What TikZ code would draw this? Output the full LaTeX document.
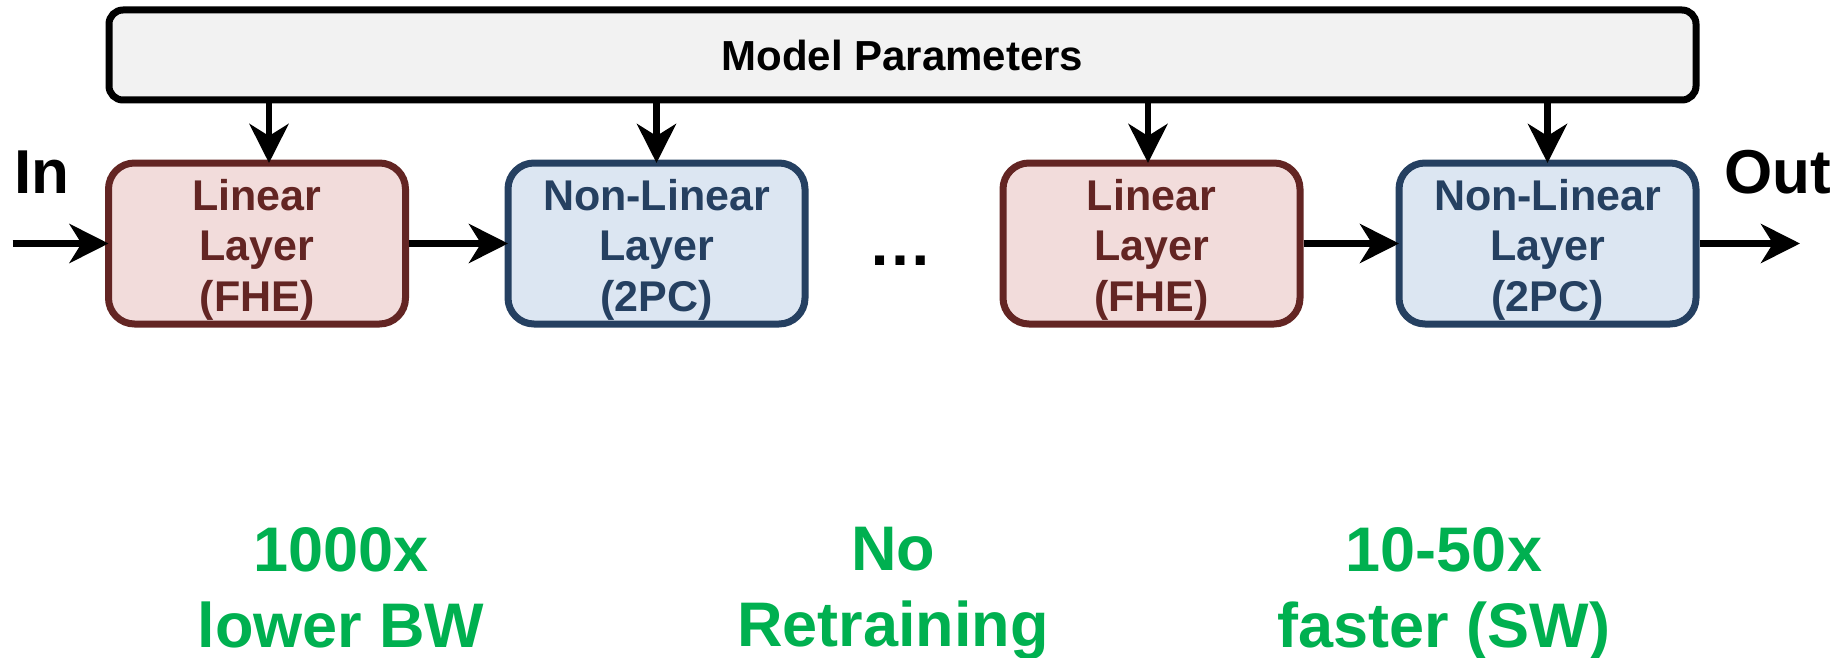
\documentclass[tikz,border=0pt]{standalone}
\usepackage{fontspec}
\setmainfont{Liberation Sans}
\usetikzlibrary{arrows.meta}
\definecolor{lred}{HTML}{632523}
\definecolor{lredfill}{HTML}{F2DCDB}
\definecolor{nlblue}{HTML}{254061}
\definecolor{nlfill}{HTML}{DCE6F2}
\definecolor{mpfill}{HTML}{F2F2F2}
\definecolor{gain}{HTML}{00B050}
\newcommand\lstrut{\rule{0pt}{43pt}}
\begin{document}
\begin{tikzpicture}[x=1pt,y=-1pt,
  layerbox/.style={draw, line width=7pt, rounded corners=26pt, minimum width=297pt,
    minimum height=161pt, outer sep=0pt, inner sep=0pt, align=center,
    font=\fontsize{43}{50.5}\selectfont\bfseries},
  linbox/.style={layerbox, draw=lred, fill=lredfill, text=lred},
  nlbox/.style={layerbox, draw=nlblue, fill=nlfill, text=nlblue},
  parbox/.style={draw=black, fill=mpfill, line width=7pt, rounded corners=14pt,
    minimum width=1587pt, minimum height=90pt, outer sep=0pt, inner sep=0pt,
    font=\fontsize{42}{50}\selectfont\bfseries},
  arr/.style={line width=6.5pt, shorten <=3.5pt,
    -{Stealth[length=39pt, width=39pt, inset=12pt]}},
  gaintext/.style={text=gain, align=center, inner sep=0pt, anchor=north,
    font=\fontsize{63}{76}\selectfont\bfseries},
  iolabel/.style={inner sep=0pt, anchor=base, font=\fontsize{62}{74}\selectfont\bfseries}
]
\useasboundingbox (0,0) rectangle (1847,658);

\node[parbox] (mp) at (902.5,55) {Model Parameters};
\node[linbox] (l1) at (257,243.5) {\lstrut Linear\\Layer\\(FHE)};
\node[nlbox] (n1) at (656.5,243.5) {\lstrut Non-Linear\\Layer\\(2PC)};
\node[inner sep=0pt, anchor=base, font=\fontsize{64}{64}\selectfont\bfseries] (dots) at (900,265) {…};
\node[linbox] (l2) at (1151.5,243.5) {\lstrut Linear\\Layer\\(FHE)};
\node[nlbox] (n2) at (1547.5,243.5) {\lstrut Non-Linear\\Layer\\(2PC)};

\node[iolabel] (inlbl) at (42,193) {In};
\node[iolabel] (outlbl) at (1778,193) {Out};

\node[gaintext] (g1) at (341,527) {1000x\\lower BW};
\node[gaintext] (g2) at (893,527) {No\\Retraining};
\node[gaintext] (g3) at (1444,527) {10-50x\\faster (SW)};

\coordinate (src) at (9,243.5);
\coordinate (dst) at (1800,243.5);
\path ([xshift=12pt]l1.north) coordinate (t1)
      (n1.north) coordinate (t2)
      ([xshift=-3.5pt]l2.north) coordinate (t3)
      (n2.north) coordinate (t4);

\draw[arr] (src) -- (l1.west);
\draw[arr] (l1.east) -- (n1.west);
\draw[arr] (l2.east) -- (n2.west);
\draw[arr] (n2.east) -- (dst);
\foreach \t in {t1,t2,t3,t4}
  \draw[arr] (\t |- mp.south) -- (\t);
\end{tikzpicture}
\end{document}
